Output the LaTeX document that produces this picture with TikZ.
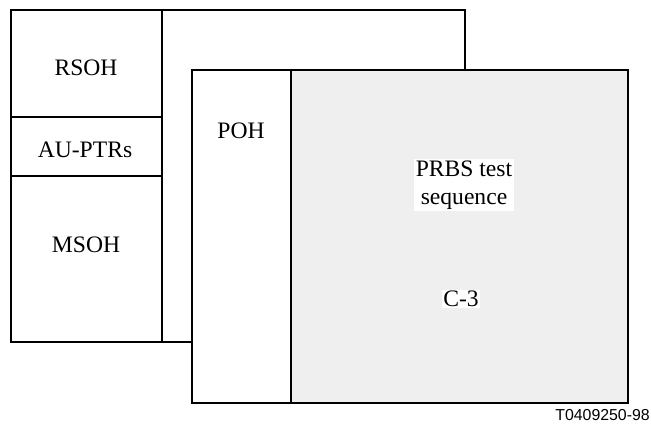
\documentclass[tikz,border=0pt]{standalone}
\usepackage{fontspec}
\setmainfont{Liberation Serif}
\newfontfamily\labelfont{Liberation Sans}
\definecolor{payload}{HTML}{EFEFEF}
\begin{document}
\begin{tikzpicture}[x=0.75pt, y=-0.75pt,
        frame/.style={draw=black, line width=0.8pt},
        lbl/.style={font=\fontsize{17.7}{21}\selectfont, inner sep=1pt, align=center}]
        \useasboundingbox (0, 0) rectangle (651, 426);

        \coordinate (A) at (11, 10);
        \coordinate (B) at (465, 342);
        \coordinate (P) at (192, 70);
        \coordinate (Q) at (628, 403);

        % STM-1 frame at the back
        \draw[frame, fill=white] (A) rectangle (B);
        \draw[frame] (162, 10) -- (162, 342);
        \draw[frame] (11, 117) -- (162, 117);
        \draw[frame] (11, 176) -- (162, 176);

        % VC-3 in front
        \draw[frame, fill=white] (P) rectangle (Q);
        \fill[payload] (291, 70) rectangle (Q);
        \draw[frame] (P) rectangle (Q);
        \draw[frame] (291, 70) -- (291, 403);

        \node[lbl] (rsoh) at (86, 68) {RSOH};
        \node[lbl] (ptr) at (85, 150) {AU-PTRs};
        \node[lbl] (msoh) at (86, 245) {MSOH};
        \node[lbl] (poh) at (241, 131) {POH};
        \node[lbl, fill=white] (prbs) at (464, 185) {PRBS test\\sequence};
        \node[lbl, fill=white] (c3) at (461, 299) {C-3};

        \node[font=\labelfont\fontsize{11.9}{14}\selectfont, anchor=south east, inner sep=0pt] (ref) at (650, 421) {T0409250-98};
    \end{tikzpicture}
\end{document}
